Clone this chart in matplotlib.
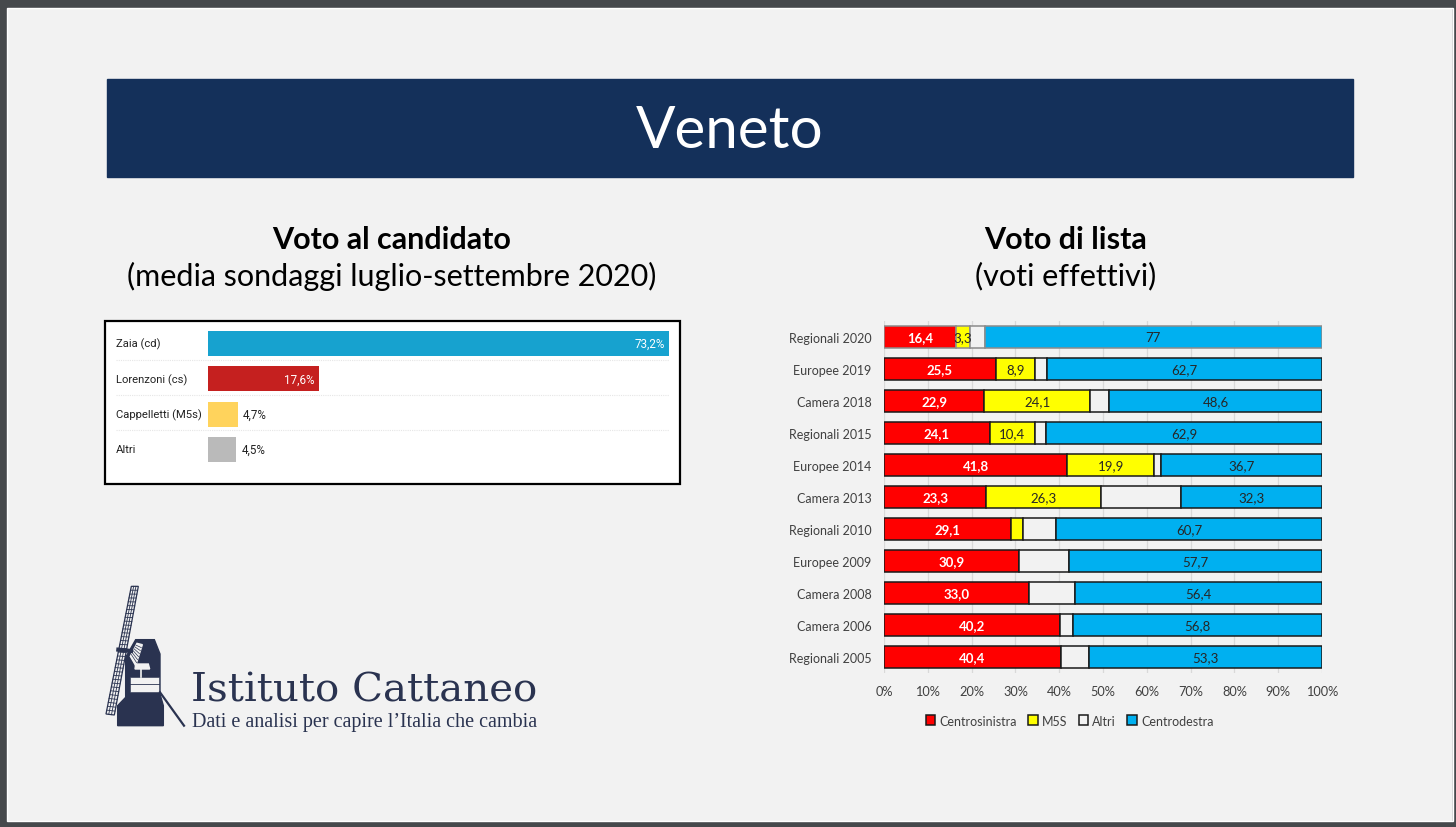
"""Veneto slide: candidate polling bars, list vote stacks and the institute logo."""
import numpy as np
import matplotlib

matplotlib.use("Agg")
import matplotlib.pyplot as plt
from matplotlib.patches import Polygon, Rectangle

W, H = 1456, 828

# Left panel: candidate vote
CANDIDATES = ["Zaia (cd)", "Lorenzoni (cs)", "Cappelletti (M5s)", "Altri"]
CAND_VALUES = [73.2, 17.6, 4.7, 4.5]
CAND_COLORS = ["#17a2cf", "#c5201f", "#ffd35c", "#bababa"]

# Right panel: list vote
ELECTIONS = ["Regionali 2020", "Europee 2019", "Camera 2018", "Regionali 2015",
             "Europee 2014", "Camera 2013", "Regionali 2010", "Europee 2009",
             "Camera 2008", "Camera 2006", "Regionali 2005"]
CSX = [16.4, 25.5, 22.9, 24.1, 41.8, 23.3, 29.1, 30.9, 33.0, 40.2, 40.4]
M5S = [3.3, 8.9, 24.1, 10.4, 19.9, 26.3, 2.7, 0, 0, 0, 0]
ALTRI = [3.3, 2.9, 4.4, 2.6, 1.6, 18.1, 7.5, 11.4, 10.6, 3.0, 6.3]
CDX = [77, 62.7, 48.6, 62.9, 36.7, 32.3, 60.7, 57.7, 56.4, 56.8, 53.3]
CSX_LABELS = ["16,4", "25,5", "22,9", "24,1", "41,8", "23,3", "29,1", "30,9",
              "33,0", "40,2", "40,4"]
M5S_LABELS = ["3,3", "8,9", "24,1", "10,4", "19,9", "26,3", "", "", "", "", ""]
CDX_LABELS = ["77", "62,7", "48,6", "62,9", "36,7", "32,3", "60,7", "57,7",
              "56,4", "56,8", "53,3"]

BG = "#f2f2f2"
NAVY = "#14305a"
LOGO = "#2a3350"
FRAME = "#46494c"
GREY_TXT = "#404040"
SANS = ["Lato", "DejaVu Sans"]


def px_axes(fig, x0, y0, x1, y1, **kw):
    """Axes from pixel box given with y measured from the top of the image."""
    return fig.add_axes([x0 / W, 1 - y1 / H, (x1 - x0) / W, (y1 - y0) / H], **kw)


def slide_background(bg):
    # window frame of the screenshot
    bg.add_patch(Rectangle((0, 0), W, 8, color=FRAME))
    bg.add_patch(Rectangle((0, 823), W, 5, color=FRAME))
    bg.add_patch(Rectangle((0, 0), 6, H, color=FRAME))
    bg.add_patch(Rectangle((1453, 0), 3, H, color=FRAME))
    bg.add_patch(Rectangle((6.5, 8.5), 1446, 814, fill=False,
                           edgecolor="white", lw=1))
    bg.add_patch(Rectangle((107, 80), 1246, 98, color=NAVY))
    bg.text(730, 131, "Veneto", color="white", fontsize=42, ha="center",
            va="center", family=SANS)
    bg.text(392, 240, "Voto al candidato", fontsize=22, fontweight="bold",
            ha="center", va="center", family=SANS, color="black")
    bg.text(392, 276, "(media sondaggi luglio-settembre 2020)", fontsize=22,
            ha="center", va="center", family=SANS, color="black")
    bg.text(1066, 240, "Voto di lista", fontsize=22, fontweight="bold",
            ha="center", va="center", family=SANS, color="black")
    bg.text(1066, 276, "(voti effettivi)", fontsize=22, ha="center",
            va="center", family=SANS, color="black")
    bg.add_patch(Rectangle((105, 322), 575, 163, facecolor="white",
                           edgecolor="black", linewidth=1.6))
    for y in [361, 396, 431]:
        bg.plot([116, 669], [y, y], color="#e6e6e6", lw=0.8, ls=(0, (1, 1)))


def draw_logo(bg):
    # windmill shapes, in pixels of the slide
    def p(pts):
        return [(95 + x / 3, 580 + y / 3) for x, y in pts]

    body = [(122, 182), (178, 182), (195, 225), (195, 345), (205, 380),
            (205, 440), (68, 440), (68, 380), (92, 355), (92, 235)]
    bg.add_patch(Polygon(p(body), color=LOGO))
    bg.add_patch(Polygon(p([(105, 295), (192, 295), (192, 340), (105, 340)]),
                         facecolor=BG, edgecolor=LOGO, lw=0.4))
    bg.plot(*zip(*p([(105, 316), (192, 316)])), color=LOGO, lw=0.6)
    bg.plot(*zip(*p([(138, 270), (138, 295)])), color=BG, lw=1.2)
    bg.add_patch(Polygon(p([(122, 255), (160, 255), (164, 270), (120, 270)]),
                         color=BG))
    # small lattice inside the tower
    in_a, in_b = np.array((126.0, 193.0)), np.array((106.0, 232.0))
    in_c, in_d = np.array((142.0, 197.0)), np.array((122.0, 260.0))
    bg.add_patch(Polygon(p([in_a, in_c, in_d, in_b]), color=BG))
    for t in np.linspace(0, 1, 8)[1:-1]:
        bg.plot(*zip(*p([in_a + t * (in_b - in_a), in_c + t * (in_d - in_c)])),
                color=LOGO, lw=0.5)
    bg.plot(*zip(*p([(70, 212), (108, 216)])), color=LOGO, lw=3)
    bg.plot(*zip(*p([(195, 340), (267, 440)])), color=LOGO, lw=1.6)
    # lattice blade
    top_l, top_r = np.array((109.0, 22.0)), np.array((130.0, 22.0))
    bot_l, bot_r = np.array((33.0, 405.0)), np.array((58.0, 408.0))
    bg.add_patch(Polygon(p([top_l, top_r, bot_r, bot_l]), facecolor=BG,
                         edgecolor=LOGO, lw=0.9))
    for t in np.linspace(0, 1, 34)[1:-1]:
        a, b = top_l + t * (bot_l - top_l), top_r + t * (bot_r - top_r)
        bg.plot(*zip(*p([a, b])), color=LOGO, lw=0.6)
    for s in (0.33, 0.66):
        a, b = top_l + s * (top_r - top_l), bot_l + s * (bot_r - bot_l)
        bg.plot(*zip(*p([a, b])), color=LOGO, lw=0.6)
    bg.text(191, 691, "Istituto Cattaneo", fontsize=29.1, color=LOGO, ha="left",
            va="center", family=["DejaVu Serif"])
    bg.text(192, 723, "Dati e analisi per capire l\u2019Italia che cambia",
            fontsize=14.5, color=LOGO, ha="left", va="center",
            family=["Liberation Serif", "DejaVu Serif"])


def candidate_bars(fig):
    ax = px_axes(fig, 208, 327, 669, 468)
    ax.patch.set_alpha(0)
    y = np.arange(len(CANDIDATES))
    ax.barh(y, CAND_VALUES, height=0.71, color=CAND_COLORS)
    ax.set_xlim(0, 73.2)
    ax.set_ylim(3.5, -0.5)
    ax.axis("off")
    for yi, name, v in zip(y, CANDIDATES, CAND_VALUES):
        ax.annotate(name, (0, yi), xytext=(-92, 0), textcoords="offset pixels",
                    va="center", ha="left", fontsize=8.1, color="#222222",
                    family="Roboto")
        txt = f"{v:.1f}".replace(".", ",") + "%"
        if v > 10:
            ax.annotate(txt, (v, yi), xytext=(-4, 0), textcoords="offset pixels",
                        va="center", ha="right", fontsize=8.4, color="white",
                        family="Roboto")
        else:
            ax.annotate(txt, (v, yi), xytext=(5, 0), textcoords="offset pixels",
                        va="center", ha="left", fontsize=8.4, color="#222222",
                        family="Roboto")


def list_stacks(fig):
    ax = px_axes(fig, 884, 322, 1322, 674)
    ax.patch.set_alpha(0)
    y = np.arange(len(ELECTIONS))
    series = [("Centrosinistra", CSX, "#ff0000", CSX_LABELS, "white"),
              ("M5S", M5S, "#ffff00", M5S_LABELS, "#262626"),
              ("Altri", ALTRI, BG, None, None),
              ("Centrodestra", CDX, "#00b0f0", CDX_LABELS, "#262626")]
    left = np.zeros(len(ELECTIONS))
    for name, vals, color, labels, tcol in series:
        vals = np.array(vals, dtype=float)
        edges = ["#8c8c8c" if i == 0 else "#1a1a1a" for i in y]
        ax.barh(y, vals, left=left, height=0.71, color=color, edgecolor=edges,
                linewidth=1.1, label=name, zorder=3)
        if labels:
            for yi, lab, l, v in zip(y, labels, left, vals):
                if lab:
                    ax.text(l + v / 2, yi, lab, ha="center", va="center",
                            color=tcol, fontsize=9.5, zorder=4, family=SANS,
                            fontweight="bold" if tcol == "white" else "normal")
        left += vals
    ax.set_xlim(0, 100)
    ax.set_ylim(len(ELECTIONS) - 0.5, -0.5)
    ax.set_xticks(np.arange(0, 101, 10))
    ax.set_xticklabels([f"{v}%" for v in range(0, 101, 10)])
    ax.set_yticks(y)
    ax.set_yticklabels(ELECTIONS)
    ax.tick_params(axis="both", length=0, labelsize=9, labelcolor=GREY_TXT)
    ax.tick_params(axis="x", pad=9, labelsize=9.2)
    ax.tick_params(axis="y", pad=9)
    for lab in ax.get_xticklabels() + ax.get_yticklabels():
        lab.set_family(SANS)
    ax.grid(axis="x", color="#d9d9d9", lw=0.9, zorder=0)
    ax.set_axisbelow(True)
    for s in ax.spines.values():
        s.set_visible(False)
    leg = ax.legend(loc="upper center", bbox_to_anchor=(0.424, -0.086), ncol=4,
                    frameon=False, handlelength=0.75, handleheight=0.85,
                    handletextpad=0.35, columnspacing=0.9,
                    labelcolor=GREY_TXT, prop={"family": SANS, "size": 9})
    for h in leg.legend_handles:
        h.set_edgecolor("#1a1a1a")


def main():
    fig = plt.figure(figsize=(W / 100, H / 100), dpi=100, facecolor=BG)
    bg = fig.add_axes([0, 0, 1, 1])
    bg.set_xlim(0, W)
    bg.set_ylim(H, 0)
    bg.axis("off")
    slide_background(bg)
    draw_logo(bg)
    candidate_bars(fig)
    list_stacks(fig)
    fig.savefig("out.png", dpi=100, facecolor=BG)


if __name__ == "__main__":
    main()
